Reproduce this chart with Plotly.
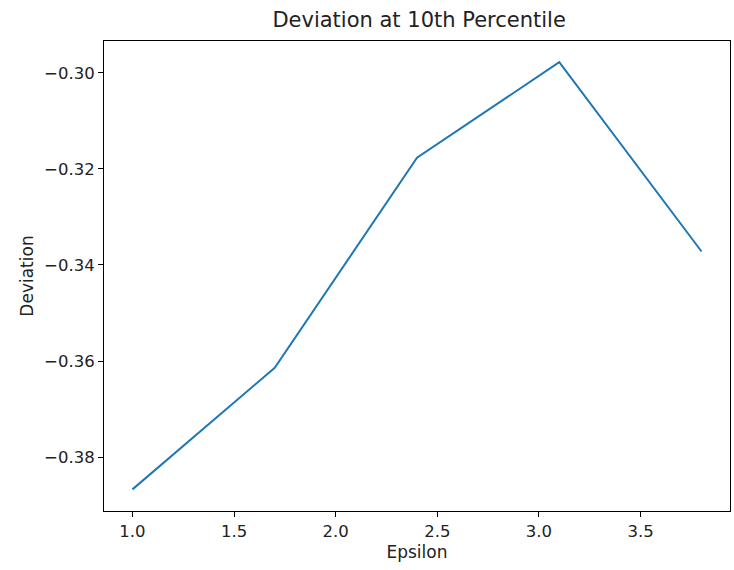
import plotly.graph_objects as go

epsilon = [1.0, 1.7, 2.4, 3.1, 3.8]
deviation = [-0.3867, -0.3614, -0.3177, -0.2978, -0.3372]
x_ticks = [1.0, 1.5, 2.0, 2.5, 3.0, 3.5]
y_ticks = [-0.38, -0.36, -0.34, -0.32, -0.30]

fig = go.Figure()
fig.add_trace(go.Scatter(x=epsilon, y=deviation, mode="lines",
                         line=dict(color="#1f77b4", width=2)))

font = "DejaVu Sans, sans-serif"
fig.update_layout(
    width=734, height=570,
    margin=dict(l=104, r=4, t=41, b=59, autoexpand=False),
    paper_bgcolor="white", plot_bgcolor="white",
    showlegend=False,
    font=dict(family=font, size=16.5, color="#222222"),
    title=dict(text="Deviation at 10th Percentile", x=0.571, xanchor="center",
               yref="container", y=1 - 20/570, yanchor="middle",
               font=dict(size=21, color="#222222")),
)
fig.update_xaxes(
    range=[0.86, 3.94], tickvals=x_ticks, ticktext=[f"{v:.1f}" for v in x_ticks],
    showgrid=False, zeroline=False, showline=True, linecolor="black", linewidth=1,
    mirror=True, ticks="outside", ticklen=5, tickcolor="black", automargin=False,
    title=dict(text="Epsilon", font=dict(size=17), standoff=6),
)
fig.update_yaxes(
    range=[-0.3912, -0.2934], tickvals=y_ticks, ticktext=[f"\u2212{abs(v):.2f}" for v in y_ticks],
    showgrid=False, zeroline=False, showline=True, linecolor="black", linewidth=1,
    mirror=True, ticks="outside", ticklen=5, tickcolor="black", automargin=False,
    title=dict(text="Deviation", font=dict(size=17), standoff=6),
)
fig.write_html("out.html", config={"displayModeBar": False},
               post_script="document.body.style.margin='0';document.body.style.padding='0';")
